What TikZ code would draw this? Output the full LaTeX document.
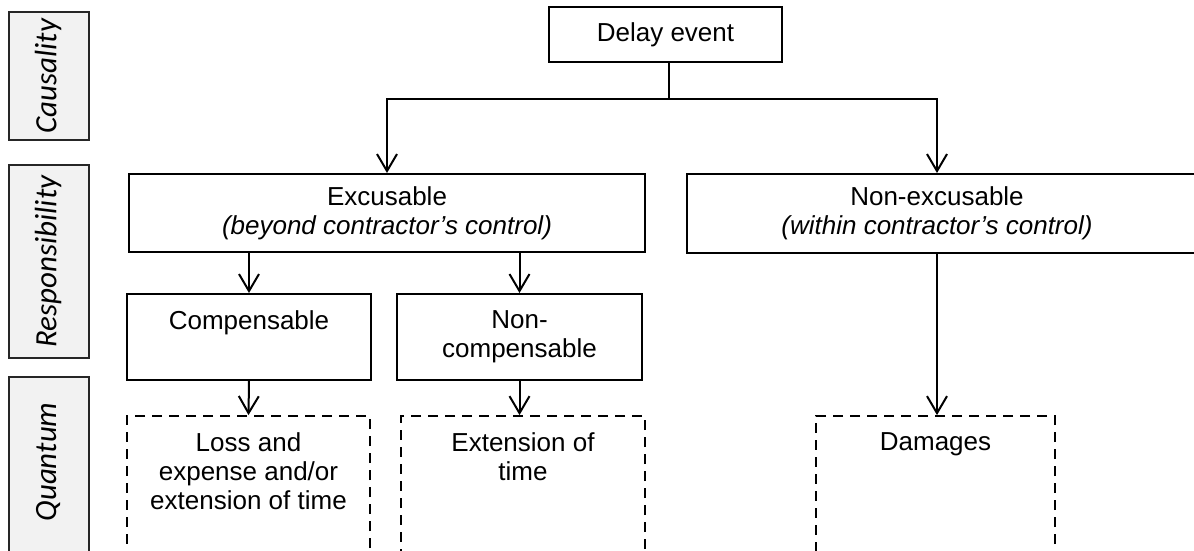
\documentclass[tikz,border=0pt]{standalone}
\usepackage{fontspec}
\setmainfont{Liberation Sans}
\newfontfamily\tierfont{Carlito}
\usetikzlibrary{arrows.meta}
\definecolor{tiergray}{HTML}{F2F2F2}
\begin{document}
\begin{tikzpicture}[x=1pt,y=-1pt,
  box/.style={draw=black, line width=2pt, rectangle, inner sep=0pt,
    font=\fontsize{26}{29}\selectfont, align=center},
  dbox/.style={box, line width=1.8pt, dash pattern=on 10pt off 7pt},
  tier/.style={draw=black!85, fill=tiergray, line width=1.5pt,
    minimum width=80pt, inner sep=0pt},
  tiertext/.style={font=\tierfont\itshape\fontsize{31}{34}\selectfont,
    rotate=90, inner sep=0pt},
  txt/.style={font=\fontsize{26}{29}\selectfont, align=center, inner sep=0pt},
  toptxt/.style={txt, anchor=north},
  link/.style={line width=2pt},
  arr/.style={link, -{Straight Barb[length=17pt,width=20pt]}}
]
\useasboundingbox (0,0) rectangle (1194,550);
\clip (0,0) rectangle (1194,550);

% tier labels on the left
\node[tier, minimum height=128pt] (tcaus) at (49,76) {};
\node[tiertext] (tcaustext) at (48,76) {Causality};
\node[tier, minimum height=193pt] (tresp) at (49,261.5) {};
\node[tiertext] (tresptext) at (48,261.5) {Responsibility};
\node[tier, minimum height=183pt] (tquant) at (49,468.5) {};
\node[tiertext] (tquanttext) at (48,462) {Quantum};

% causality
\node[box, minimum width=233pt, minimum height=55pt] (delay) at (665.5,34.5) {Delay event};

% responsibility
\node[box, minimum width=516pt, minimum height=78pt] (exc) at (387,213)
  {Excusable\\\textit{(beyond contractor’s control)}};
\node[box, minimum width=513pt, minimum height=79pt] (nexc) at (943.5,213.5) {};
\node[txt] (nexctext) at (937,213.5)
  {Non-excusable\\\textit{(within contractor’s control)}};
\node[box, minimum width=244pt, minimum height=86pt] (comp) at (249,337) {};
\node[toptxt] (comptext) at (249,310) {Compensable};
\node[box, minimum width=245pt, minimum height=86pt] (ncomp) at (519.5,337) {};
\node[toptxt] (ncomptext) at (519.5,310) {Non-\\compensable};

% quantum
\node[dbox, minimum width=243pt, minimum height=144pt] (loss) at (248.5,488) {};
\node[toptxt] (losstext) at (248.5,432) {Loss and\\expense and/or\\extension of time};
\node[dbox, minimum width=244pt, minimum height=144pt] (ext) at (523,488) {};
\node[toptxt] (exttext) at (523,432) {Extension of\\time};
\node[dbox, minimum width=239pt, minimum height=144pt] (dmg) at (935.5,488) {};
\node[toptxt] (dmgtext) at (935.5,432) {Damages};

% connectors
\coordinate (split) at (669,99);
\draw[link] (delay.south -| split) -- (split);
\draw[arr] (split) -| (exc.north);
\draw[arr] (split) -| (nexc.north -| nexctext);
\draw[arr] (exc.south -| comp.north) -- (comp.north);
\draw[arr] (exc.south -| ncomp.north) -- (ncomp.north);
\draw[arr] (comp.south) -- (loss.north);
\draw[arr] (ncomp.south) -- (ncomp.south |- ext.north);
\draw[arr] (nexc.south -| nexctext) -- (ext.north -| nexctext);
\end{tikzpicture}
\end{document}
